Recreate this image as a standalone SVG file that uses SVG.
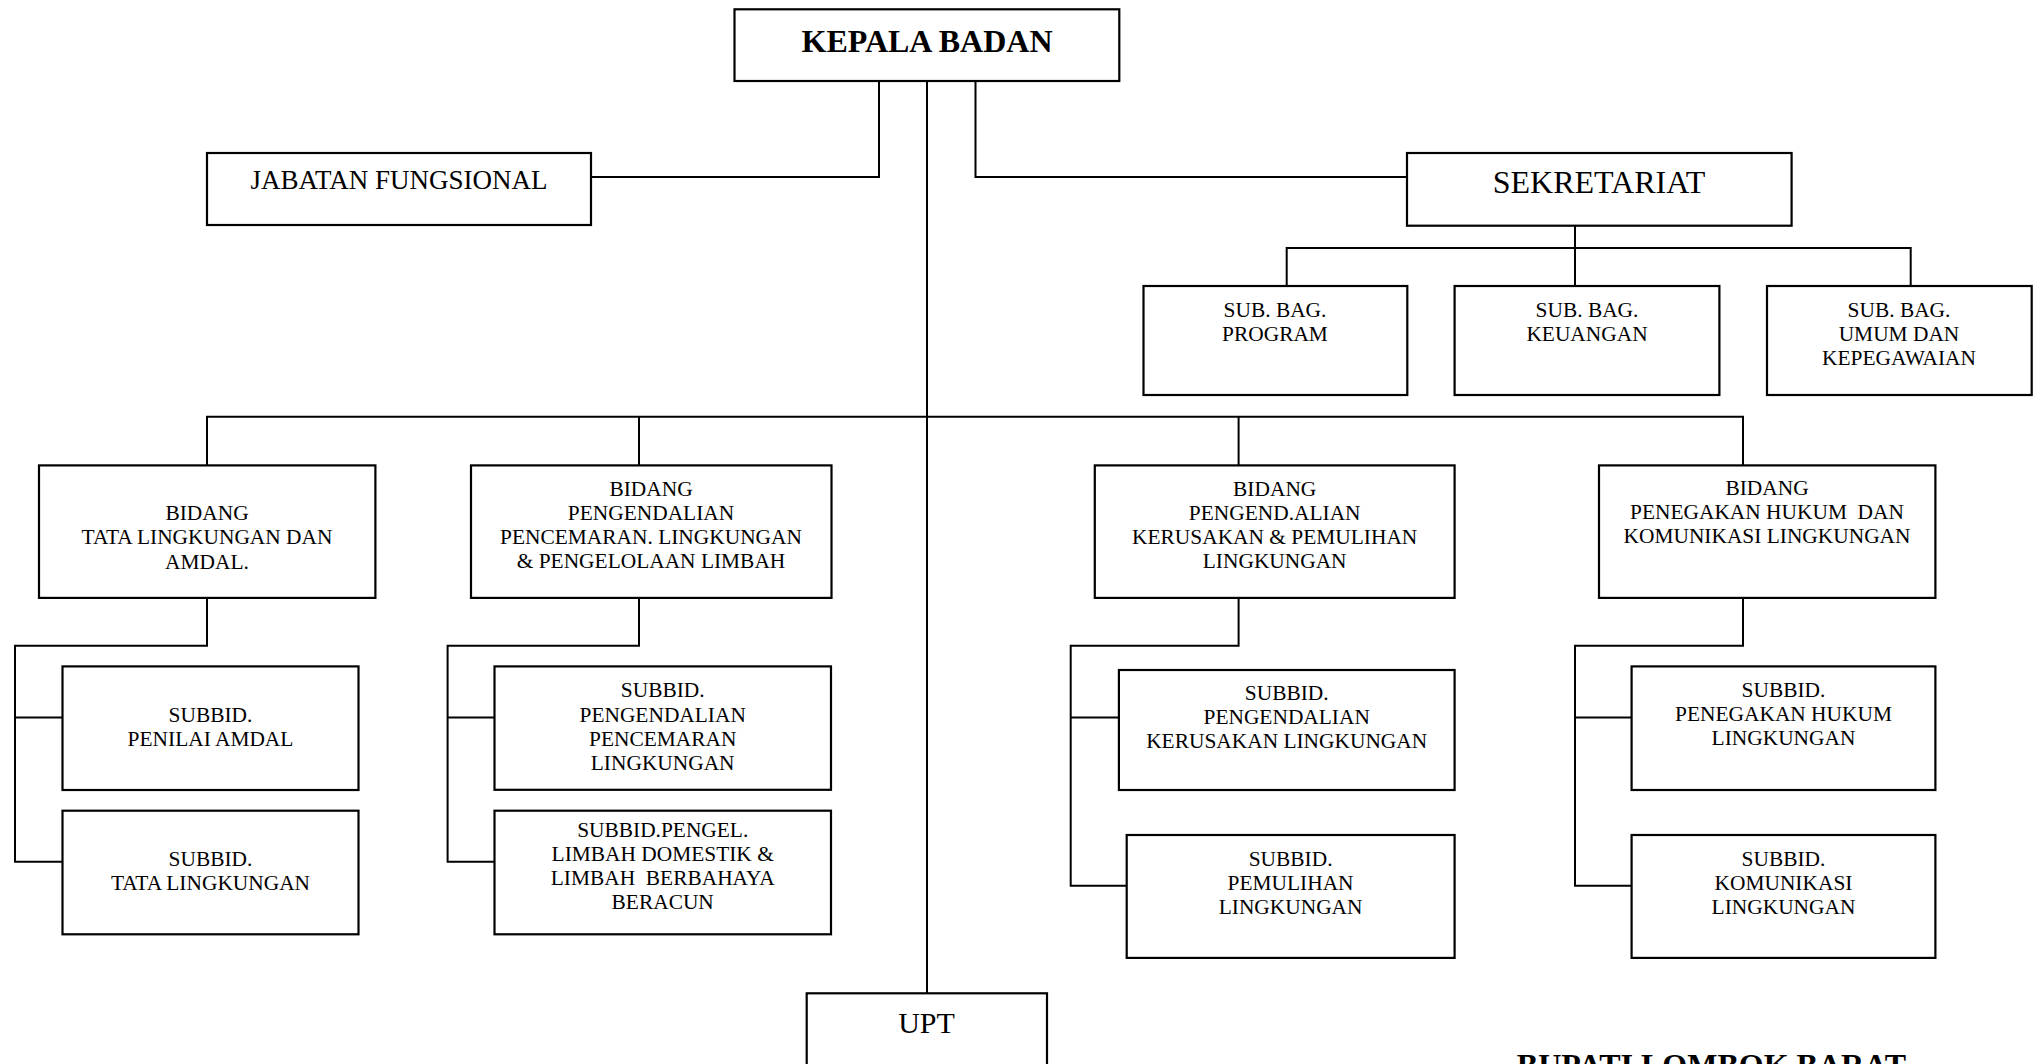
<svg xmlns="http://www.w3.org/2000/svg" width="2040" height="1064" viewBox="0 0 2040 1064">
<style>
  .box { fill: #ffffff; stroke: #000000; stroke-width: 2.2; }
  .ln { fill: none; stroke: #000000; stroke-width: 2; }
  text { font-family: "Liberation Serif", "Times New Roman", serif; fill: #000000; text-anchor: middle; white-space: pre; }
  .t21 { font-size: 21.4px; }
  .t27 { font-size: 27px; }
  .t32 { font-size: 32px; }
  .t30 { font-size: 30px; }
  .b32 { font-size: 32px; font-weight: bold; }
</style>
<rect width="2040" height="1064" fill="#ffffff"/>

<g id="connectors">
  <path class="ln" d="M927,81 V993"/>
  <path class="ln" d="M879,81 V177 H591"/>
  <path class="ln" d="M975.5,81 V177 H1407"/>
  <path class="ln" d="M1575,225.7 V286"/>
  <path class="ln" d="M1286.7,286 V248 H1910.7 V286"/>
  <path class="ln" d="M207,465.4 V416.8 H1743 V465.4"/>
  <path class="ln" d="M639,416.8 V465.4"/>
  <path class="ln" d="M1238.6,416.8 V465.4"/>
  <path class="ln" d="M207,597.9 V645.7 H15 V861.8 H62.5"/>
  <path class="ln" d="M15,717.5 H62.5"/>
  <path class="ln" d="M639,597.9 V645.7 H447.6 V861.8 H494.5"/>
  <path class="ln" d="M447.6,717.5 H494.5"/>
  <path class="ln" d="M1238.6,597.9 V645.7 H1070.7 V885.7 H1126.7"/>
  <path class="ln" d="M1070.7,717.5 H1118.9"/>
  <path class="ln" d="M1743,597.9 V645.7 H1575 V885.7 H1631.6"/>
  <path class="ln" d="M1575,717.5 H1631.6"/>
</g>

<g id="kepala-badan">
  <rect class="box" x="734.5" y="9.3" width="384.8" height="71.7"/>
  <text class="b32" x="927" y="51.7">KEPALA BADAN</text>
</g>

<g id="jabatan-fungsional">
  <rect class="box" x="207" y="153" width="384" height="72"/>
  <text class="t27" x="399" y="189">JABATAN FUNGSIONAL</text>
</g>

<g id="sekretariat">
  <rect class="box" x="1407" y="153" width="384.6" height="72.7"/>
  <text class="t32" x="1599" y="193.3">SEKRETARIAT</text>
</g>

<g id="subbag-program">
  <rect class="box" x="1143.5" y="286" width="263.8" height="109"/>
  <text class="t21" x="1275" y="316.7">SUB. BAG.</text>
  <text class="t21" x="1275" y="341">PROGRAM</text>
</g>

<g id="subbag-keuangan">
  <rect class="box" x="1454.6" y="286" width="264.8" height="109"/>
  <text class="t21" x="1587" y="316.7">SUB. BAG.</text>
  <text class="t21" x="1587" y="341">KEUANGAN</text>
</g>

<g id="subbag-umum">
  <rect class="box" x="1767" y="286" width="264.7" height="109"/>
  <text class="t21" x="1899" y="316.7">SUB. BAG.</text>
  <text class="t21" x="1899" y="341">UMUM DAN</text>
  <text class="t21" x="1899" y="365">KEPEGAWAIAN</text>
</g>

<g id="bidang-tata-lingkungan">
  <rect class="box" x="39" y="465.4" width="336.4" height="132.5"/>
  <text class="t21" x="207" y="520">BIDANG</text>
  <text class="t21" x="207" y="544.3">TATA LINGKUNGAN DAN</text>
  <text class="t21" x="207" y="568.5">AMDAL.</text>
</g>

<g id="bidang-pengendalian-pencemaran">
  <rect class="box" x="471" y="465.4" width="360.5" height="132.5"/>
  <text class="t21" x="651" y="495.5">BIDANG</text>
  <text class="t21" x="651" y="519.7">PENGENDALIAN</text>
  <text class="t21" x="651" y="544">PENCEMARAN. LINGKUNGAN</text>
  <text class="t21" x="651" y="568.3">&amp; PENGELOLAAN LIMBAH</text>
</g>

<g id="bidang-pengendalian-kerusakan">
  <rect class="box" x="1094.8" y="465.4" width="359.8" height="132.5"/>
  <text class="t21" x="1274.7" y="495.5">BIDANG</text>
  <text class="t21" x="1274.7" y="519.7">PENGEND.ALIAN</text>
  <text class="t21" x="1274.7" y="544">KERUSAKAN &amp; PEMULIHAN</text>
  <text class="t21" x="1274.7" y="568.3">LINGKUNGAN</text>
</g>

<g id="bidang-penegakan-hukum">
  <rect class="box" x="1599" y="465.4" width="336.4" height="132.5"/>
  <text class="t21" x="1767" y="494.5">BIDANG</text>
  <text class="t21" x="1767" y="518.5">PENEGAKAN HUKUM  DAN</text>
  <text class="t21" x="1767" y="542.5">KOMUNIKASI LINGKUNGAN</text>
</g>

<g id="subbid-penilai-amdal">
  <rect class="box" x="62.5" y="666.4" width="296" height="123.6"/>
  <text class="t21" x="210.5" y="721.5">SUBBID.</text>
  <text class="t21" x="210.5" y="745.7">PENILAI AMDAL</text>
</g>

<g id="subbid-tata-lingkungan">
  <rect class="box" x="62.5" y="810.7" width="296" height="123.6"/>
  <text class="t21" x="210.5" y="866">SUBBID.</text>
  <text class="t21" x="210.5" y="890">TATA LINGKUNGAN</text>
</g>

<g id="subbid-pengendalian-pencemaran">
  <rect class="box" x="494.5" y="666.4" width="336.5" height="123.4"/>
  <text class="t21" x="662.7" y="697.3">SUBBID.</text>
  <text class="t21" x="662.7" y="721.5">PENGENDALIAN</text>
  <text class="t21" x="662.7" y="745.7">PENCEMARAN</text>
  <text class="t21" x="662.7" y="770">LINGKUNGAN</text>
</g>

<g id="subbid-pengel-limbah">
  <rect class="box" x="494.5" y="810.7" width="336.5" height="123.6"/>
  <text class="t21" x="662.7" y="836.7">SUBBID.PENGEL.</text>
  <text class="t21" x="662.7" y="860.8">LIMBAH DOMESTIK &amp;</text>
  <text class="t21" x="662.7" y="885">LIMBAH  BERBAHAYA</text>
  <text class="t21" x="662.7" y="909.2">BERACUN</text>
</g>

<g id="subbid-pengendalian-kerusakan">
  <rect class="box" x="1118.9" y="670" width="335.7" height="120"/>
  <text class="t21" x="1286.7" y="699.7">SUBBID.</text>
  <text class="t21" x="1286.7" y="723.9">PENGENDALIAN</text>
  <text class="t21" x="1286.7" y="748.1">KERUSAKAN LINGKUNGAN</text>
</g>

<g id="subbid-pemulihan">
  <rect class="box" x="1126.7" y="835" width="327.9" height="122.9"/>
  <text class="t21" x="1290.6" y="865.5">SUBBID.</text>
  <text class="t21" x="1290.6" y="889.5">PEMULIHAN</text>
  <text class="t21" x="1290.6" y="913.5">LINGKUNGAN</text>
</g>

<g id="subbid-penegakan-hukum">
  <rect class="box" x="1631.6" y="666.4" width="303.8" height="123.6"/>
  <text class="t21" x="1783.5" y="697">SUBBID.</text>
  <text class="t21" x="1783.5" y="721.2">PENEGAKAN HUKUM</text>
  <text class="t21" x="1783.5" y="745.4">LINGKUNGAN</text>
</g>

<g id="subbid-komunikasi">
  <rect class="box" x="1631.6" y="835" width="303.8" height="122.9"/>
  <text class="t21" x="1783.5" y="865.5">SUBBID.</text>
  <text class="t21" x="1783.5" y="889.5">KOMUNIKASI</text>
  <text class="t21" x="1783.5" y="913.5">LINGKUNGAN</text>
</g>

<g id="upt">
  <rect class="box" x="806.7" y="993.3" width="240.3" height="90"/>
  <text class="t30" x="926.5" y="1033.3">UPT</text>
</g>

<g id="bupati-lombok-barat">
  <text class="b32" x="1711.5" y="1076">BUPATI LOMBOK BARAT</text>
</g>
</svg>
